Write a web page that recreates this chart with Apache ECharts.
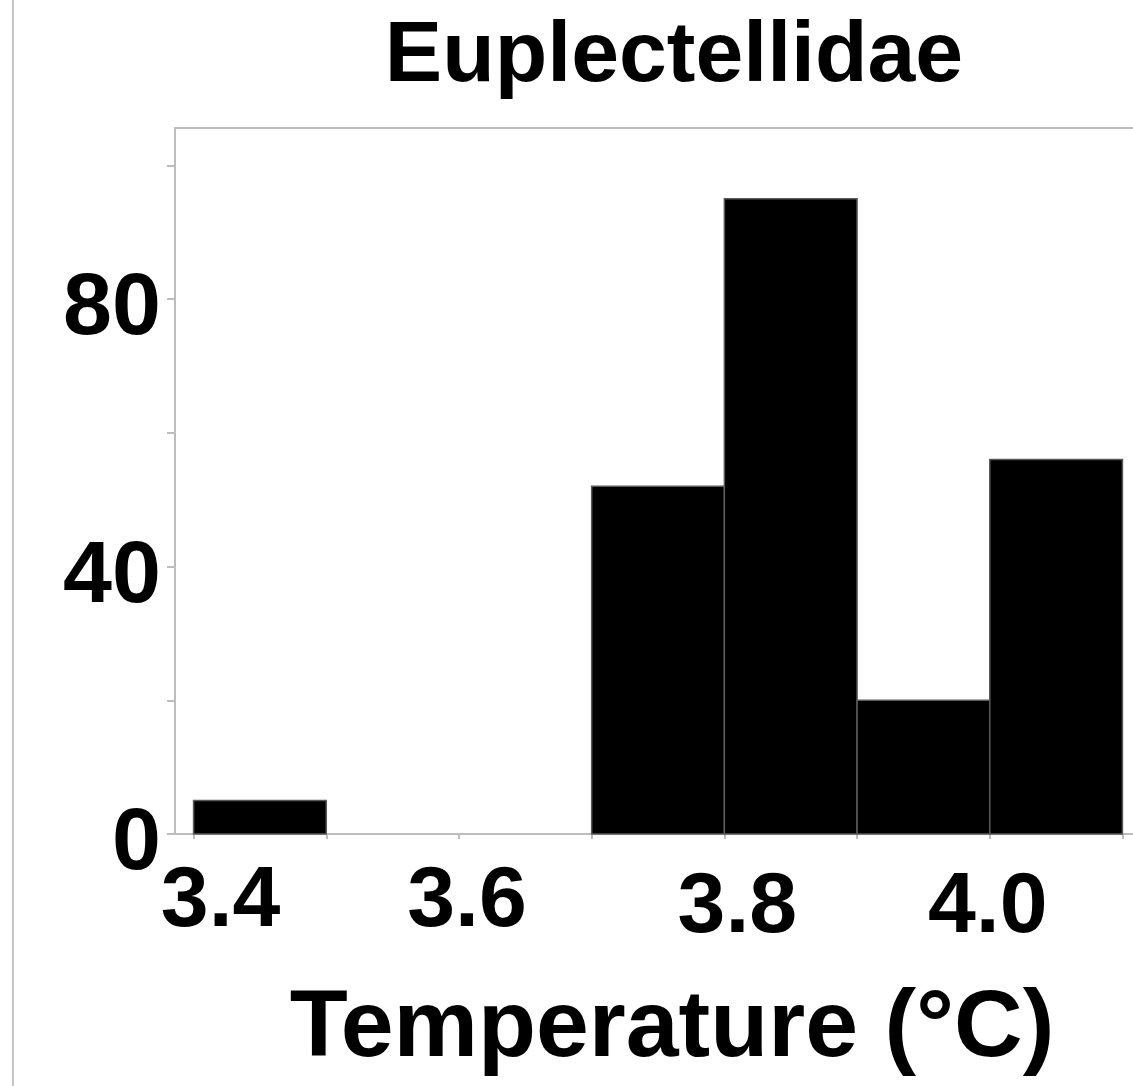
<!DOCTYPE html>
<html>
<head>
<meta charset="utf-8">
<script src="https://cdn.jsdelivr.net/npm/echarts@6/dist/echarts.min.js"></script>
<style>
  html, body { margin: 0; padding: 0; background: #fff; overflow: hidden; }
  #chart { width: 1160px; height: 1086px; }
</style>
</head>
<body>
<div id="chart"></div>
<script>
// ---- Data ----
const binStarts = [3.4, 3.5, 3.6, 3.7, 3.8, 3.9, 4.0];
const binWidth = 0.1;
const counts = [5, 0, 0, 52, 95, 20, 56];
const xTickValues = [3.4, 3.5, 3.6, 3.7, 3.8, 3.9, 4.0, 4.1];
const xLabelValues = [3.4, 3.6, 3.8, 4.0];
const xLabelTexts = ['3.4', '3.6', '3.8', '4.0'];
const yTickValues = [0, 20, 40, 60, 80, 100];
const yLabelValues = [0, 40, 80];
const titleText = 'Euplectellidae';
const xName = 'Temperature (°C)';

const FONT = '"Liberation Sans", Arial, Helvetica, sans-serif';
const GRAY = '#bdbdbd';

const seriesData = binStarts.map((s, i) => [s, +(s + binWidth).toFixed(2), counts[i]]);

// per-label fine placement (rich styles)
const xRich = {
  l0: { fontFamily: FONT, fontWeight: 'bold', fontSize: 86, color: '#000', padding: [0, 0, 0, 54] },
  l1: { fontFamily: FONT, fontWeight: 'bold', fontSize: 86, color: '#000', padding: [0, 0, 0, 16] },
  l2: { fontFamily: FONT, fontWeight: 'bold', fontSize: 86, color: '#000', padding: [6, 0, 0, 26] },
  l3: { fontFamily: FONT, fontWeight: 'bold', fontSize: 86, color: '#000', padding: [6, 4, 0, 0] }
};
const yRich = {
  y: { fontFamily: FONT, fontWeight: 'bold', fontSize: 88, color: '#000', padding: [22, 0, 0, 0] }
};

const chart = echarts.init(document.getElementById('chart'), null, { renderer: 'canvas' });
chart.setOption({
  backgroundColor: '#fff',
  animation: false,
  title: {
    text: titleText,
    left: 674,
    top: 14,
    padding: 0,
    textAlign: 'center',
    textStyle: { fontFamily: FONT, fontWeight: 'bold', fontSize: 86, color: '#000' }
  },
  graphic: [{
    type: 'line',
    shape: { x1: 13, y1: 0, x2: 13, y2: 1086 },
    style: { stroke: '#c4c4c4', lineWidth: 2 }
  }],
  grid: {
    left: 175, right: 11, top: 128, bottom: 252,
    show: true, borderColor: GRAY, borderWidth: 2, backgroundColor: 'transparent'
  },
  xAxis: {
    type: 'value',
    min: 3.386,
    max: 4.12,
    name: xName,
    nameLocation: 'middle',
    nameGap: 148,
    nameTextStyle: { fontFamily: FONT, fontWeight: 'bold', fontSize: 95, color: '#000', padding: [0, 0, 0, 20] },
    splitLine: { show: false },
    axisLine: { show: true, lineStyle: { color: GRAY, width: 2 } },
    axisTick: { show: true, customValues: xTickValues, length: 5, lineStyle: { color: GRAY, width: 2 } },
    axisLabel: {
      show: true,
      customValues: xLabelValues,
      margin: 25,
      fontFamily: FONT, fontWeight: 'bold', fontSize: 86, color: '#000',
      formatter: function (v) {
        const i = xLabelValues.findIndex(x => Math.abs(x - v) < 1e-6);
        return i < 0 ? '' : '{l' + i + '|' + xLabelTexts[i] + '}';
      },
      rich: xRich
    }
  },
  yAxis: {
    type: 'value',
    min: 0,
    max: 105.6,
    interval: 20,
    splitLine: { show: false },
    axisLine: { show: true, lineStyle: { color: GRAY, width: 2 } },
    axisTick: { show: true, customValues: yTickValues, length: 8, lineStyle: { color: GRAY, width: 2 } },
    axisLabel: {
      show: true,
      customValues: yLabelValues,
      margin: 14,
      fontFamily: FONT, fontWeight: 'bold', fontSize: 88, color: '#000',
      formatter: function (v) { return '{y|' + v + '}'; },
      rich: yRich
    }
  },
  series: [{
    type: 'custom',
    data: seriesData,
    encode: { x: [0, 1], y: 2 },
    renderItem: function (params, api) {
      const x0 = api.value(0), x1 = api.value(1), c = api.value(2);
      if (!c) return null;
      const p0 = api.coord([x0, c]);
      const p1 = api.coord([x1, 0]);
      return {
        type: 'rect',
        shape: { x: p0[0], y: p0[1], width: p1[0] - p0[0], height: p1[1] - p0[1] },
        style: { fill: '#000', stroke: '#5a5a5a', lineWidth: 1.5 }
      };
    }
  }]
});
</script>
</body>
</html>
